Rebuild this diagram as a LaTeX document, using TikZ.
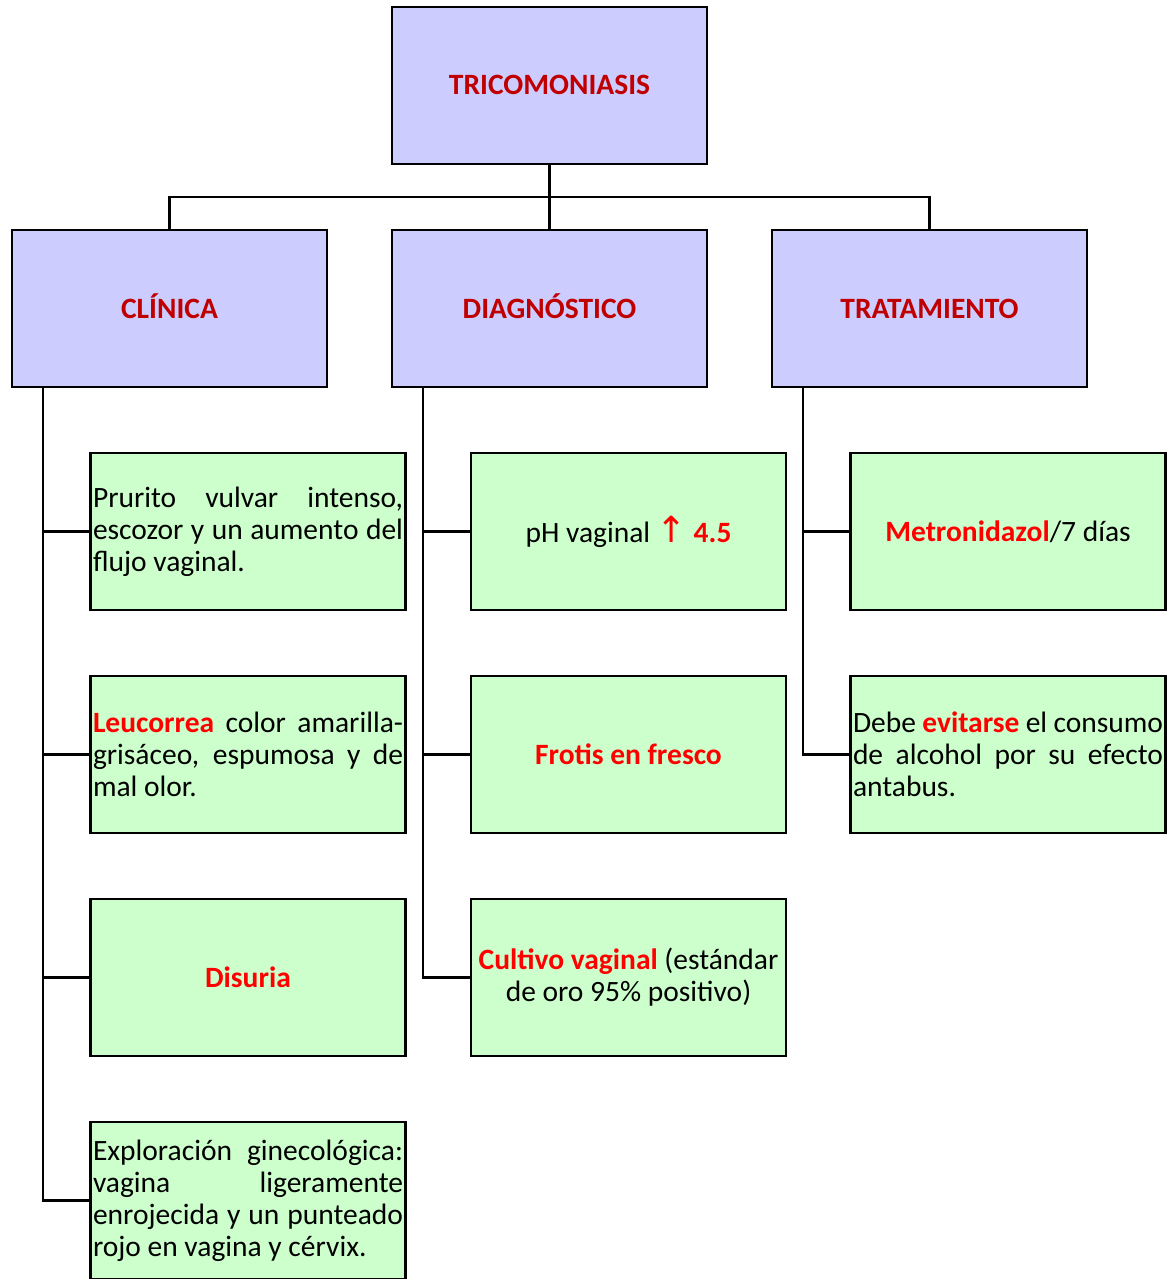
\documentclass[tikz,border=0pt]{standalone}
\usepackage{fontspec}
\setmainfont{Carlito}
\newfontfamily\symfont{DejaVu Sans}
\usetikzlibrary{positioning}
\definecolor{boxblue}{RGB}{204,204,255}
\definecolor{boxgreen}{RGB}{204,255,204}
\definecolor{titlered}{RGB}{192,0,0}
\definecolor{keyred}{RGB}{255,0,0}
\newcommand{\boxfont}{\fontsize{29.5}{32}\selectfont}
\newcommand{\key}[1]{\textbf{\textcolor{keyred}{#1}}}

\begin{document}
\begin{tikzpicture}[x=1pt,y=-1pt,
  headbox/.style={draw,line width=2.5pt,fill=boxblue,minimum width=315pt,minimum height=157pt,font=\boxfont\bfseries,text=titlered,text height=19pt,text depth=0pt},
  itembox/.style={draw,line width=2.5pt,fill=boxgreen,minimum width=315pt,minimum height=157pt,inner xsep=2pt,text width=310pt,font=\boxfont},
  midtext/.style={align=flush center,execute at begin node={\spaceskip=0pt\xspaceskip=0pt}},
  link/.style={line width=2.5pt}]
\useasboundingbox (0,0) rectangle (1167,1279);

% Title
\node[headbox] (tric) at (549.5,85.5) {TRICOMONIASIS};

% Branches
\node[headbox] (clin) at (169.5,308.5) {CLÍNICA};
\node[headbox] (diag) at (549.5,308.5) {DIAGNÓSTICO};
\node[headbox] (trat) at (929.5,308.5) {TRATAMIENTO};

% Clinica
\node[itembox,align=justify] (c1) at (248,531.5) {Prurito vulvar intenso,\linebreak escozor y un aumento del\linebreak flujo vaginal.};
\node[itembox,align=justify] (c2) at (248,754.5) {\key{Leucorrea} color amarilla-\linebreak grisáceo, espumosa y de\linebreak mal olor.};
\node[itembox,midtext] (c3) at (248,977.5) {\key{Disuria}};
\node[itembox,align=justify] (c4) at (248,1200.5) {Exploración ginecológica:\linebreak vagina ligeramente\linebreak enrojecida y un punteado\linebreak rojo en vagina y cérvix.};

% Diagnostico
\node[itembox,midtext] (d1) at (628.5,531.5) {pH vaginal {\symfont\fontsize{36}{32}\selectfont\color{keyred}↑} \key{4.5}};
\node[itembox,midtext] (d2) at (628.5,754.5) {\key{Frotis en fresco}};
\node[itembox,midtext] (d3) at (628.5,977.5) {\key{Cultivo vaginal} (estándar\\de oro 95\% positivo)};

% Tratamiento
\node[itembox,midtext] (t1) at (1008,531.5) {\key{Metronidazol}/7 días};
\node[itembox,align=justify] (t2) at (1008,754.5) {Debe \key{evitarse} el consumo\linebreak de alcohol por su efecto\linebreak antabus.};

% Tree
\coordinate (bus) at (549.5,197);
\draw[link] (tric.south) -- (diag.north);
\draw[link] (clin.north) |- (bus) -| (trat.north);

% Rails
\coordinate (clinrail) at ([xshift=32pt]clin.south west);
\coordinate (diagrail) at ([xshift=32pt]diag.south west);
\coordinate (tratrail) at ([xshift=32pt]trat.south west);
\foreach \n in {c1,c2,c3,c4} \draw[link] (clinrail) |- (\n.west);
\foreach \n in {d1,d2,d3} \draw[link] (diagrail) |- (\n.west);
\foreach \n in {t1,t2} \draw[link] (tratrail) |- (\n.west);
\end{tikzpicture}
\end{document}
